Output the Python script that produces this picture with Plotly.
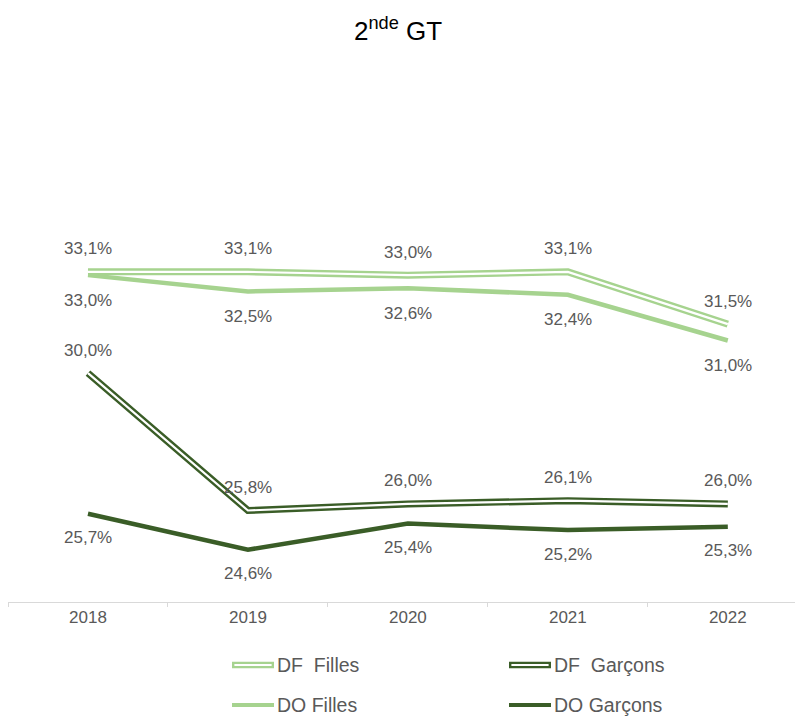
import plotly.graph_objects as go

years = ["2018", "2019", "2020", "2021", "2022"]
df_filles = [33.1, 33.1, 33.0, 33.1, 31.5]
do_filles = [33.0, 32.5, 32.6, 32.4, 31.0]
df_garcons = [30.0, 25.8, 26.0, 26.1, 26.0]
do_garcons = [25.7, 24.6, 25.4, 25.2, 25.3]

LIGHT = "#a6d38f"
DARK = "#3a5d27"
TXT = "#595959"
FONT = "Liberation Sans, Arial"

fig = go.Figure()

def add_double(y, color):
    fig.add_trace(go.Scatter(x=years, y=y, mode="lines", line=dict(color=color, width=7),
                             showlegend=False, hoverinfo="skip"))
    fig.add_trace(go.Scatter(x=years, y=y, mode="lines", line=dict(color="white", width=2.2),
                             showlegend=False, hoverinfo="skip"))

def add_solid(y, color):
    fig.add_trace(go.Scatter(x=years, y=y, mode="lines", line=dict(color=color, width=4.5),
                             showlegend=False))

add_double(df_filles, LIGHT)
add_solid(do_filles, LIGHT)
add_double(df_garcons, DARK)
add_solid(do_garcons, DARK)

def fmt(v):
    return f"{v:.1f}".replace(".", ",") + "%"

def labels(y, shift):
    for i, v in enumerate(y):
        fig.add_annotation(xref="x", yref="y", x=i, y=v, text=fmt(v), showarrow=False,
                           yshift=shift, xanchor="center", yanchor="middle",
                           font=dict(size=17, color=TXT, family=FONT))

labels(df_filles, 23)
labels(do_filles, -25)
labels(df_garcons, 23)
labels(do_garcons, -24)

# Title
fig.add_annotation(xref="paper", yref="paper", x=0.49, y=1.0, yshift=50, yanchor="middle",
                   text="2<sup>nde</sup> GT", showarrow=False,
                   font=dict(size=26, color="#000000", family=FONT))

# Manual legend (pixel positions of the screenshot converted to paper coords)
def px_to_paper_x(px):
    return (px - 8) / 795

def px_to_paper_y(py):
    return (602 - py) / 523

legend_items = [
    ("DF  Filles", LIGHT, True, 230, 665),
    ("DF  Garçons", DARK, True, 507, 665),
    ("DO Filles", LIGHT, False, 230, 705),
    ("DO Garçons", DARK, False, 507, 705),
]
for name, color, double, lx, ly in legend_items:
    x0, x1 = px_to_paper_x(lx + 2), px_to_paper_x(lx + 44)
    yy = px_to_paper_y(ly)
    if double:
        fig.add_shape(type="line", xref="paper", yref="paper", x0=x0, x1=x1, y0=yy, y1=yy,
                      line=dict(color=color, width=6.5))
        fig.add_shape(type="line", xref="paper", yref="paper", x0=x0 + 0.003, x1=x1 - 0.003, y0=yy, y1=yy,
                      line=dict(color="white", width=2.2))
    else:
        fig.add_shape(type="line", xref="paper", yref="paper", x0=x0, x1=x1, y0=yy, y1=yy,
                      line=dict(color=color, width=4))
    fig.add_annotation(xref="paper", yref="paper", x=px_to_paper_x(lx + 45), y=yy, text=name,
                       showarrow=False, xanchor="left", yanchor="middle",
                       font=dict(size=19.5, color=TXT, family=FONT))

fig.update_layout(
    width=795, height=709,
    margin=dict(l=0, r=0, t=71, b=115),
    paper_bgcolor="white", plot_bgcolor="white",
    showlegend=False,
    xaxis=dict(type="category", range=[-0.5, 4.47], showgrid=False, showline=True,
               linecolor="#d9d9d9", linewidth=1, ticks="outside", tickson="boundaries",
               tickcolor="#d9d9d9", ticklen=4,
               tickfont=dict(size=17, color=TXT, family=FONT)),
    yaxis=dict(range=[23, 39], visible=False),
)

fig.write_html("out.html")
